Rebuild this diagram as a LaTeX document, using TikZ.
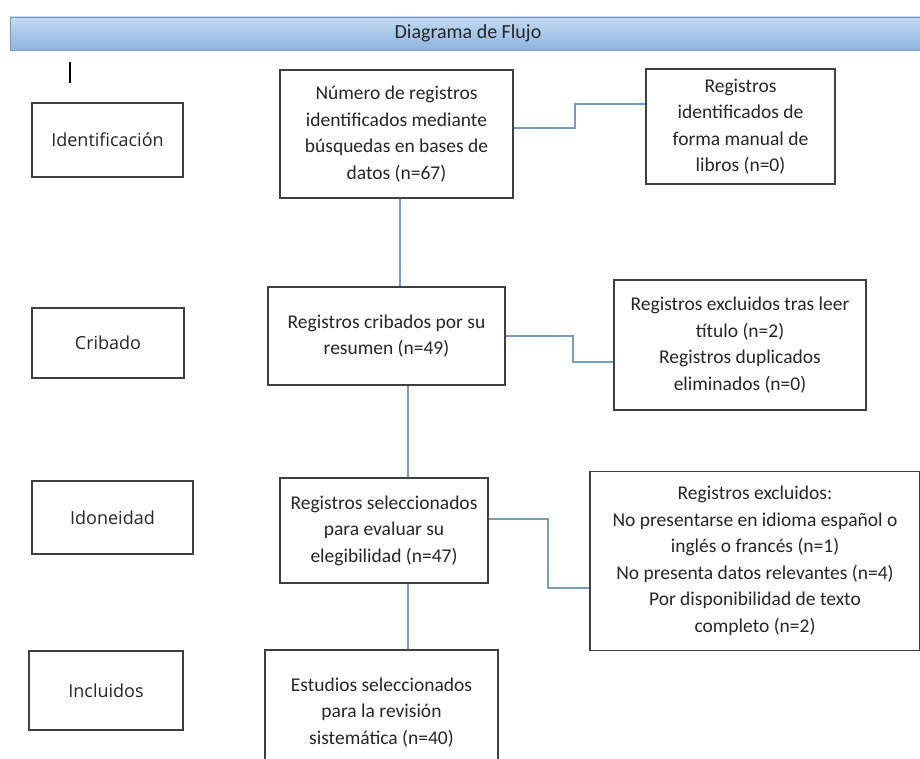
\documentclass[tikz,border=0pt]{standalone}
\usepackage{fontspec}
\setmainfont{Carlito}
\newfontfamily\lblfont{Open Sans}
\definecolor{boxgray}{HTML}{3F3F3F}
\definecolor{connblue}{HTML}{7A9CC0}
\definecolor{txt}{HTML}{262626}
\definecolor{bartop}{HTML}{C2DAF1}
\definecolor{barbot}{HTML}{8FB4E0}
\begin{document}
\begin{tikzpicture}[x=1pt,y=1pt,
  box/.style={draw=boxgray, line width=1.5pt, align=center, inner sep=0pt, font=\fontsize{19.5}{26.5}\selectfont, text=txt},
  lbl/.style={draw=boxgray, line width=1.5pt, inner sep=0pt, font=\lblfont\fontsize{18}{22}\selectfont, text=txt},
  conn/.style={draw=connblue, line width=1.3pt},
  barbox/.style={draw=connblue!80!gray, line width=0.6pt, top color=bartop, bottom color=barbot, inner sep=0pt, font=\fontsize{20}{24}\selectfont, text=txt}]
\useasboundingbox (0,0) rectangle (920,758);
\clip (0,0) rectangle (920,758);
\fill[white] (0,0) rectangle (920,758);

% header bar
\node[barbox, minimum width=916, minimum height=33] (bar) at (468,724.5) {Diagrama de Flujo};

% small tick
\coordinate (t1) at (70,696);
\coordinate (t2) at (70,675);
\draw[black, line width=1.2pt] (t1) -- (t2);

% left stage labels
\node[lbl, minimum width=151, minimum height=74] (idf) at (107.5,618) {Identificación};
\node[lbl, minimum width=152, minimum height=70] (crib) at (108,415) {Cribado};
\node[lbl, minimum width=161, minimum height=73] (idon) at (112.5,240.5) {Idoneidad};
\node[lbl, minimum width=154, minimum height=79] (incl) at (106,67.5) {Incluidos};

% central column
\node[box, minimum width=233, minimum height=128] (B1) at (396.5,624)
  {Número de registros\\identificados mediante\\búsquedas en bases de\\datos (n=67)};
\node[box, minimum width=237, minimum height=98] (B2) at (386.5,422)
  {Registros cribados por su\\resumen (n=49)};
\node[box, minimum width=208, minimum height=105] (B3) at (384,227.5)
  {Registros seleccionados\\para evaluar su\\elegibilidad (n=47)};
\node[box, minimum width=233, minimum height=125] (B4) at (381.5,45.5)
  {Estudios seleccionados\\para la revisión\\sistemática (n=40)};

% right column
\node[box, minimum width=189, minimum height=115] (R1) at (740.5,631.5)
  {Registros\\identificados de\\forma manual de\\libros (n=0)};
\node[box, minimum width=252, minimum height=130] (R2) at (740,413)
  {Registros excluidos tras leer\\título (n=2)\\Registros duplicados\\eliminados (n=0)};
\node[box, minimum width=330, minimum height=179] (R3) at (755,197)
  {Registros excluidos:\\No presentarse en idioma español o\\inglés o francés (n=1)\\No presenta datos relevantes (n=4)\\Por disponibilidad de texto\\completo (n=2)};

% elbow points
\coordinate (a1) at (575,630);
\coordinate (b1) at (575,654);
\coordinate (a2) at (573,422);
\coordinate (b2) at (573,396);
\coordinate (a3) at (548,239);
\coordinate (b3) at (548,170);
\coordinate (v1) at (400,0);
\coordinate (v2) at (408,0);

% connectors
\draw[conn] (B1.east |- a1) -- (a1) -- (b1) -- (R1.west |- b1);
\draw[conn] (B2.east |- a2) -- (a2) -- (b2) -- (R2.west |- b2);
\draw[conn] (B3.east |- a3) -- (a3) -- (b3) -- (R3.west |- b3);
\draw[conn] (B1.south -| v1) -- (B2.north -| v1);
\draw[conn] (B2.south -| v2) -- (B3.north -| v2);
\draw[conn] (B3.south -| v2) -- (B4.north -| v2);
\end{tikzpicture}
\end{document}
